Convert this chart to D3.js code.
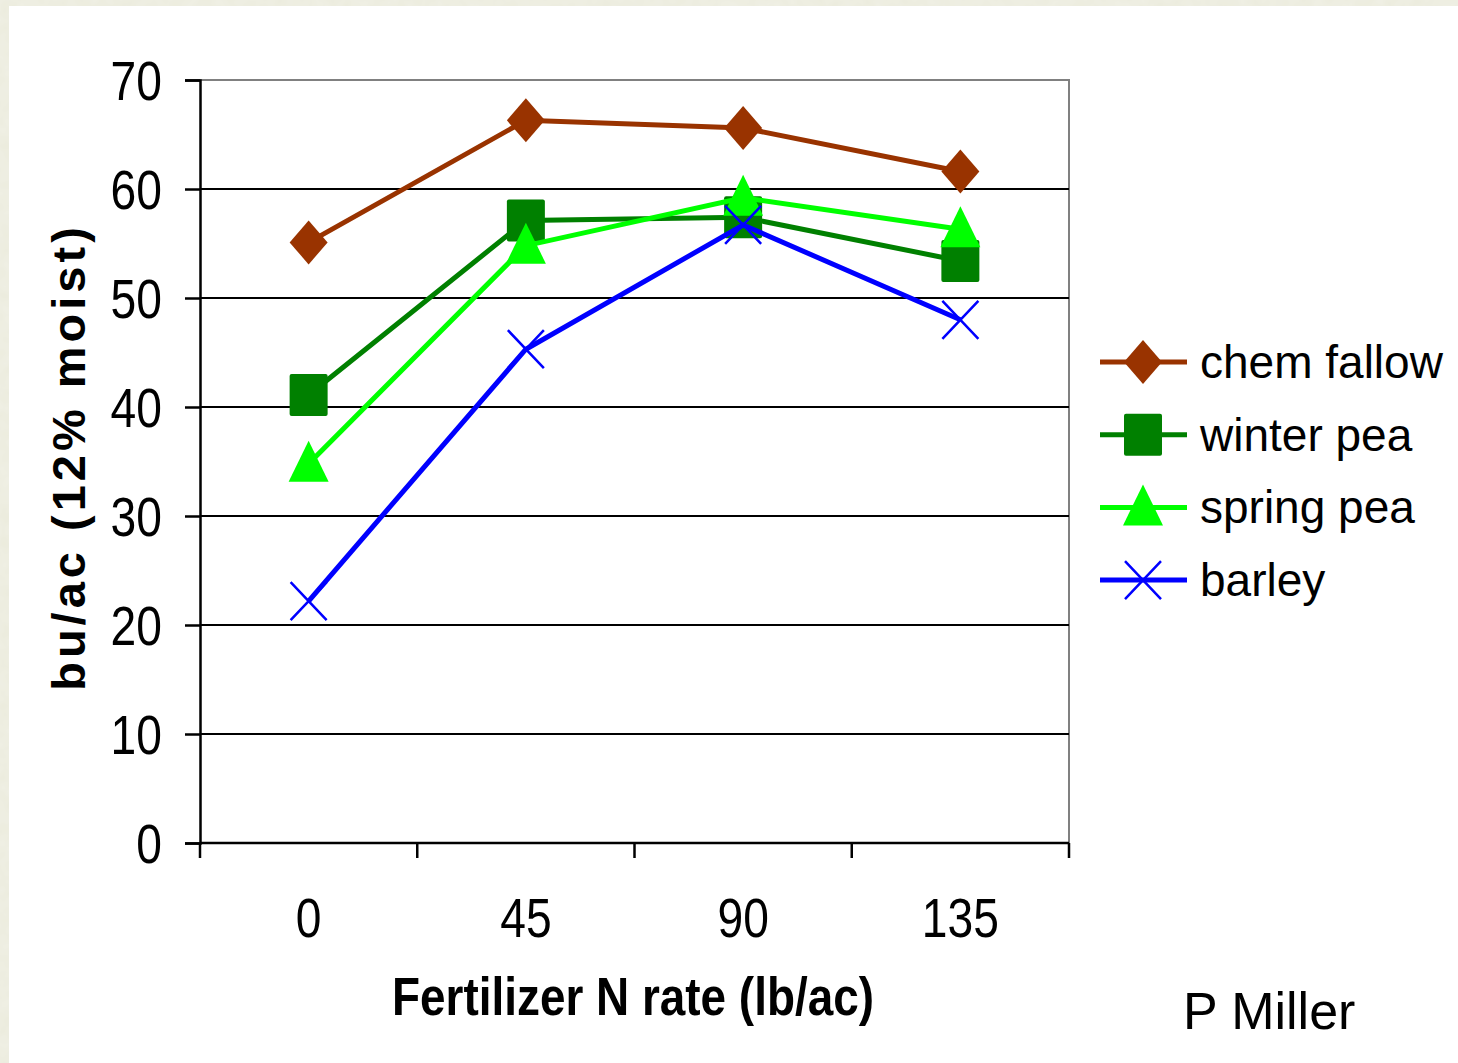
<!DOCTYPE html>
<html>
<head>
<meta charset="utf-8">
<script src="https://cdn.jsdelivr.net/npm/d3@7"></script>
<style>
  body { margin: 0; background: #ebebdd; }
  svg { display: block; font-family: "Liberation Sans", Arial, sans-serif; }
</style>
</head>
<body>
<svg width="1458" height="1063"></svg>
<script>
var rates = ["0", "45", "90", "135"];
var chemFallow = [55.1, 66.3, 65.6, 61.6];
var winterPea = [41.1, 57.1, 57.4, 53.4];
var springPea = [34.8, 54.8, 59.2, 56.3];
var barley = [22.2, 45.3, 56.7, 48.0];
var yTicks = [0, 10, 20, 30, 40, 50, 60, 70];

var series = [
  {name: "chem fallow", values: chemFallow, color: "#993300", symbol: "diamond"},
  {name: "winter pea", values: winterPea, color: "#008000", symbol: "square"},
  {name: "spring pea", values: springPea, color: "#00ff00", symbol: "triangle"},
  {name: "barley", values: barley, color: "#0000ff", symbol: "x"}
];

var svg = d3.select("svg");

// beige textured frame, white panel
var defs = svg.append("defs");
var filt = defs.append("filter").attr("id", "paper");
filt.append("feTurbulence").attr("type", "fractalNoise").attr("baseFrequency", 0.08).attr("numOctaves", 2).attr("result", "n");
filt.append("feColorMatrix").attr("type", "matrix")
  .attr("values", "0 0 0 0 0.9  0 0 0 0 0.9  0 0 0 0 0.84  0 0 0 0.6 0");
svg.append("rect").attr("width", 1458).attr("height", 1063).attr("fill", "#ebebdc");
svg.append("rect").attr("width", 1458).attr("height", 1063).attr("filter", "url(#paper)");
svg.append("rect").attr("x", 9).attr("y", 6).attr("width", 1449).attr("height", 1057).attr("fill", "#fff");

var plotL = 200, plotR = 1069, plotT = 80, plotB = 843;

var x = d3.scaleBand().domain(rates).range([plotL, plotR]);
var y = d3.scaleLinear().domain([0, 70]).range([plotB, plotT]);

// plot border (gray top / right)
svg.append("path")
  .attr("d", "M" + plotL + "," + plotT + "H" + plotR + "V" + plotB)
  .attr("fill", "none").attr("stroke", "#808080").attr("stroke-width", 2);

// gridlines
svg.append("g").selectAll("line")
  .data(yTicks.filter(function(d) { return d > 0 && d < 70; }))
  .enter().append("line")
  .attr("x1", plotL).attr("x2", plotR)
  .attr("y1", function(d) { return y(d); }).attr("y2", function(d) { return y(d); })
  .attr("stroke", "#000").attr("stroke-width", 2.2);

// y axis
var yAxis = svg.append("g")
  .attr("transform", "translate(" + plotL + ",0)")
  .call(d3.axisLeft(y).tickValues(yTicks).tickSize(15).tickPadding(0).tickFormat(d3.format("d")));
yAxis.select(".domain").attr("stroke", "#000").attr("stroke-width", 2.5);
yAxis.selectAll(".tick line").attr("stroke", "#000").attr("stroke-width", 2.5);
yAxis.selectAll(".tick text").remove();
yAxis.selectAll(".tick").append("text")
  .attr("transform", "translate(-38,0) scale(0.84,1)")
  .attr("dy", "0.36em")
  .attr("text-anchor", "end")
  .attr("fill", "#000")
  .style("font-size", "55px")
  .text(function(d) { return d; });

// x axis
var xAxis = svg.append("g").attr("transform", "translate(0," + plotB + ")");
xAxis.append("line").attr("x1", plotL).attr("x2", plotR)
  .attr("stroke", "#000").attr("stroke-width", 2.5);
xAxis.selectAll(".xt")
  .data(d3.range(rates.length + 1))
  .enter().append("line")
  .attr("x1", function(i) { return plotL + i * x.bandwidth(); })
  .attr("x2", function(i) { return plotL + i * x.bandwidth(); })
  .attr("y1", 0).attr("y2", 15)
  .attr("stroke", "#000").attr("stroke-width", 2.5);
xAxis.selectAll(".xl")
  .data(rates)
  .enter().append("text")
  .attr("transform", function(d) { return "translate(" + (x(d) + x.bandwidth() / 2) + ",94) scale(0.84,1)"; })
  .attr("text-anchor", "middle")
  .style("font-size", "55px")
  .text(function(d) { return d; });

// axis titles
svg.append("text")
  .attr("transform", "translate(633,1015) scale(0.85,1)")
  .attr("text-anchor", "middle")
  .style("font-size", "54px").style("font-weight", "bold")
  .text("Fertilizer N rate (lb/ac)");

svg.append("text")
  .attr("transform", "translate(85,457) rotate(-90)")
  .attr("text-anchor", "middle")
  .style("font-size", "47px").style("font-weight", "bold").style("letter-spacing", "4px")
  .text("bu/ac (12% moist)");

svg.append("text")
  .attr("x", 1183).attr("y", 1029)
  .style("font-size", "52px")
  .text("P Miller");

// markers
function drawMarker(sel, s) {
  if (s.symbol === "diamond") {
    sel.append("path").attr("d", "M0,-22L19,0L0,22L-19,0Z").attr("fill", s.color);
  } else if (s.symbol === "square") {
    sel.append("rect").attr("x", -19).attr("y", -21).attr("width", 38).attr("height", 42).attr("rx", 2).attr("fill", s.color);
  } else if (s.symbol === "triangle") {
    sel.append("path").attr("d", "M0,-23L20,18L-20,18Z").attr("fill", s.color);
  } else {
    sel.append("path").attr("d", "M-18,-19L18,19M-18,19L18,-19").attr("stroke", s.color).attr("stroke-width", 2.5);
  }
}

var line = d3.line()
  .x(function(d, i) { return x(rates[i]) + x.bandwidth() / 2; })
  .y(function(d) { return y(d); });

series.forEach(function(s) {
  var g = svg.append("g");
  g.append("path")
    .attr("d", line(s.values))
    .attr("fill", "none")
    .attr("stroke", s.color)
    .attr("stroke-width", 5);
  g.selectAll(".m")
    .data(s.values)
    .enter().append("g")
    .attr("transform", function(d, i) { return "translate(" + (x(rates[i]) + x.bandwidth() / 2) + "," + y(d) + ")"; })
    .each(function() { drawMarker(d3.select(this), s); });
});

// legend
var legend = svg.append("g").selectAll("g")
  .data(series)
  .enter().append("g")
  .attr("transform", function(d, i) { return "translate(1100," + (362 + i * 72.7) + ")"; });
legend.append("line").attr("x1", 0).attr("x2", 87)
  .attr("stroke", function(d) { return d.color; }).attr("stroke-width", 5);
legend.append("g").attr("transform", "translate(43,0)")
  .each(function(d) { drawMarker(d3.select(this), d); });
legend.append("text")
  .attr("x", 100).attr("y", 16)
  .style("font-size", "46px")
  .text(function(d) { return d.name; });
</script>
</body>
</html>
